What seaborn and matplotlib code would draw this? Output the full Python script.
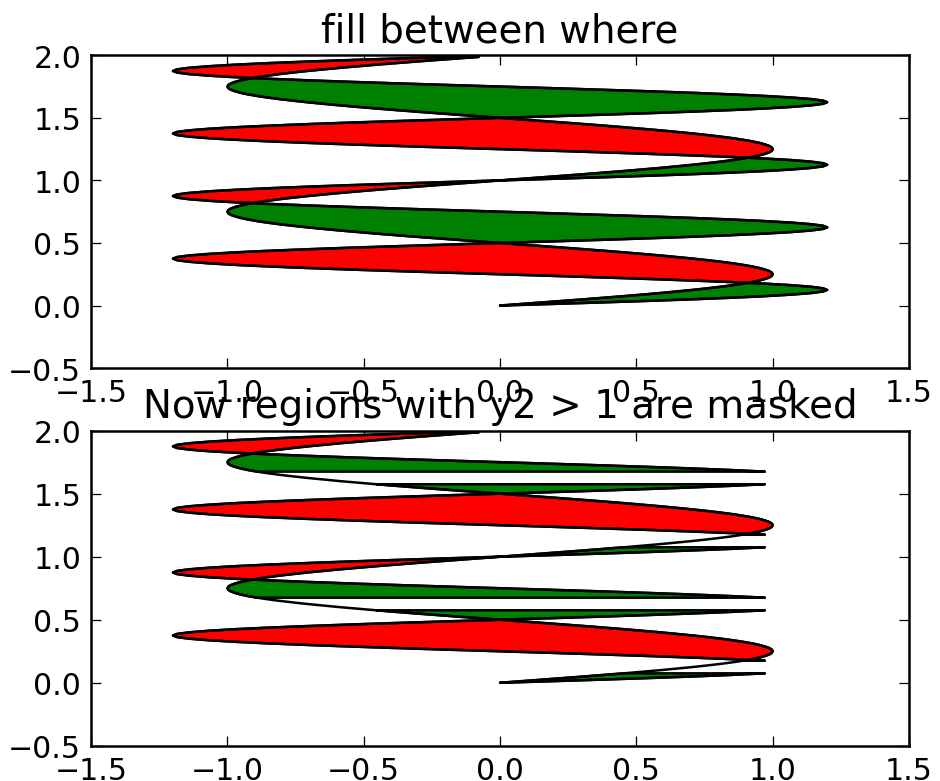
import numpy as np
import pandas as pd
import matplotlib
matplotlib.use('Agg')
import matplotlib.pyplot as plt
import seaborn as sns

# ------------------------------------------------------------
# data (y positions and the two curves)
# ------------------------------------------------------------
y = [
    0.0000, 0.0125, 0.0250, 0.0375, 0.0500, 0.0625, 0.0750, 0.0875,
    0.1000, 0.1125, 0.1250, 0.1375, 0.1500, 0.1625, 0.1750, 0.1875,
    0.2000, 0.2125, 0.2250, 0.2375, 0.2500, 0.2625, 0.2750, 0.2875,
    0.3000, 0.3125, 0.3250, 0.3375, 0.3500, 0.3625, 0.3750, 0.3875,
    0.4000, 0.4125, 0.4250, 0.4375, 0.4500, 0.4625, 0.4750, 0.4875,
    0.5000, 0.5125, 0.5250, 0.5375, 0.5500, 0.5625, 0.5750, 0.5875,
    0.6000, 0.6125, 0.6250, 0.6375, 0.6500, 0.6625, 0.6750, 0.6875,
    0.7000, 0.7125, 0.7250, 0.7375, 0.7500, 0.7625, 0.7750, 0.7875,
    0.8000, 0.8125, 0.8250, 0.8375, 0.8500, 0.8625, 0.8750, 0.8875,
    0.9000, 0.9125, 0.9250, 0.9375, 0.9500, 0.9625, 0.9750, 0.9875,
    1.0000, 1.0125, 1.0250, 1.0375, 1.0500, 1.0625, 1.0750, 1.0875,
    1.1000, 1.1125, 1.1250, 1.1375, 1.1500, 1.1625, 1.1750, 1.1875,
    1.2000, 1.2125, 1.2250, 1.2375, 1.2500, 1.2625, 1.2750, 1.2875,
    1.3000, 1.3125, 1.3250, 1.3375, 1.3500, 1.3625, 1.3750, 1.3875,
    1.4000, 1.4125, 1.4250, 1.4375, 1.4500, 1.4625, 1.4750, 1.4875,
    1.5000, 1.5125, 1.5250, 1.5375, 1.5500, 1.5625, 1.5750, 1.5875,
    1.6000, 1.6125, 1.6250, 1.6375, 1.6500, 1.6625, 1.6750, 1.6875,
    1.7000, 1.7125, 1.7250, 1.7375, 1.7500, 1.7625, 1.7750, 1.7875,
    1.8000, 1.8125, 1.8250, 1.8375, 1.8500, 1.8625, 1.8750, 1.8875,
    1.9000, 1.9125, 1.9250, 1.9375, 1.9500, 1.9625, 1.9750, 1.9875,
]

x1 = [
    0.000, 0.078, 0.156, 0.233, 0.309, 0.383, 0.454, 0.522, 0.588, 0.649,
    0.707, 0.760, 0.809, 0.853, 0.891, 0.924, 0.951, 0.972, 0.988, 0.997,
    1.000, 0.997, 0.988, 0.972, 0.951, 0.924, 0.891, 0.853, 0.809, 0.760,
    0.707, 0.649, 0.588, 0.522, 0.454, 0.383, 0.309, 0.233, 0.156, 0.078,
    0.000, -0.078, -0.156, -0.233, -0.309, -0.383, -0.454, -0.522, -0.588, -0.649,
    -0.707, -0.760, -0.809, -0.853, -0.891, -0.924, -0.951, -0.972, -0.988, -0.997,
    -1.000, -0.997, -0.988, -0.972, -0.951, -0.924, -0.891, -0.853, -0.809, -0.760,
    -0.707, -0.649, -0.588, -0.522, -0.454, -0.383, -0.309, -0.233, -0.156, -0.078,
    0.000, 0.078, 0.156, 0.233, 0.309, 0.383, 0.454, 0.522, 0.588, 0.649,
    0.707, 0.760, 0.809, 0.853, 0.891, 0.924, 0.951, 0.972, 0.988, 0.997,
    1.000, 0.997, 0.988, 0.972, 0.951, 0.924, 0.891, 0.853, 0.809, 0.760,
    0.707, 0.649, 0.588, 0.522, 0.454, 0.383, 0.309, 0.233, 0.156, 0.078,
    0.000, -0.078, -0.156, -0.233, -0.309, -0.383, -0.454, -0.522, -0.588, -0.649,
    -0.707, -0.760, -0.809, -0.853, -0.891, -0.924, -0.951, -0.972, -0.988, -0.997,
    -1.000, -0.997, -0.988, -0.972, -0.951, -0.924, -0.891, -0.853, -0.809, -0.760,
    -0.707, -0.649, -0.588, -0.522, -0.454, -0.383, -0.309, -0.233, -0.156, -0.078,
]

x2 = [
    0.000, 0.188, 0.371, 0.545, 0.705, 0.849, 0.971, 1.069, 1.141, 1.185,
    1.200, 1.185, 1.141, 1.069, 0.971, 0.849, 0.705, 0.545, 0.371, 0.188,
    0.000, -0.188, -0.371, -0.545, -0.705, -0.849, -0.971, -1.069, -1.141, -1.185,
    -1.200, -1.185, -1.141, -1.069, -0.971, -0.849, -0.705, -0.545, -0.371, -0.188,
    0.000, 0.188, 0.371, 0.545, 0.705, 0.849, 0.971, 1.069, 1.141, 1.185,
    1.200, 1.185, 1.141, 1.069, 0.971, 0.849, 0.705, 0.545, 0.371, 0.188,
    0.000, -0.188, -0.371, -0.545, -0.705, -0.849, -0.971, -1.069, -1.141, -1.185,
    -1.200, -1.185, -1.141, -1.069, -0.971, -0.849, -0.705, -0.545, -0.371, -0.188,
    0.000, 0.188, 0.371, 0.545, 0.705, 0.849, 0.971, 1.069, 1.141, 1.185,
    1.200, 1.185, 1.141, 1.069, 0.971, 0.849, 0.705, 0.545, 0.371, 0.188,
    0.000, -0.188, -0.371, -0.545, -0.705, -0.849, -0.971, -1.069, -1.141, -1.185,
    -1.200, -1.185, -1.141, -1.069, -0.971, -0.849, -0.705, -0.545, -0.371, -0.188,
    0.000, 0.188, 0.371, 0.545, 0.705, 0.849, 0.971, 1.069, 1.141, 1.185,
    1.200, 1.185, 1.141, 1.069, 0.971, 0.849, 0.705, 0.545, 0.371, 0.188,
    0.000, -0.188, -0.371, -0.545, -0.705, -0.849, -0.971, -1.069, -1.141, -1.185,
    -1.200, -1.185, -1.141, -1.069, -0.971, -0.849, -0.705, -0.545, -0.371, -0.188,
]

mask_limit = 1.0
titles = ['fill between where', 'Now regions with y2 > 1 are masked']
x_ticks = [-1.5, -1.0, -0.5, 0.0, 0.5, 1.0, 1.5]
y_ticks = [-0.5, 0.0, 0.5, 1.0, 1.5, 2.0]

y = np.array(y)
x1 = np.array(x1)
x2 = np.array(x2)
x2m = np.ma.masked_greater(x2, mask_limit)

# ------------------------------------------------------------
# old-style matplotlib look
# ------------------------------------------------------------
sns.set_style('ticks', {'xtick.direction': 'in', 'ytick.direction': 'in'})
plt.rcParams.update({
    'font.family': ['DejaVu Sans'],
    'font.size': 12,
    'text.color': 'black',
    'axes.titlecolor': 'black',
    'axes.linewidth': 1.0,
    'axes.edgecolor': 'black',
    'xtick.top': True, 'ytick.right': True,
    'xtick.major.size': 4, 'ytick.major.size': 4,
    'xtick.major.width': 0.5, 'ytick.major.width': 0.5,
    'xtick.major.pad': 4, 'ytick.major.pad': 4,
    'xtick.labelsize': 12, 'ytick.labelsize': 12,
    'xtick.color': 'black', 'ytick.color': 'black',
})

DPI = 180
fig = plt.figure(figsize=(940 / DPI, 782 / DPI), dpi=DPI)
ax1 = fig.add_axes([0.097, 0.528, 0.870, 0.400])
ax2 = fig.add_axes([0.097, 0.045, 0.870, 0.403])


def curve_frame(xv):
    # split a (possibly masked) curve into unbroken pieces
    mask = np.ma.getmaskarray(xv)
    seg = np.cumsum(np.r_[0, np.diff(mask.astype(int)) != 0])
    df = pd.DataFrame({'x': np.ma.getdata(xv), 'y': y, 'seg': seg})
    return df[~mask]


def draw(ax, xb, title):
    sns.lineplot(data=curve_frame(np.ma.asarray(x1)), x='x', y='y', units='seg',
                 sort=False, estimator=None, color='black', lw=1, ax=ax)
    sns.lineplot(data=curve_frame(np.ma.asarray(xb)), x='x', y='y', units='seg',
                 sort=False, estimator=None, color='black', lw=1, ax=ax)
    ax.fill_betweenx(y, x1, xb, where=xb >= x1, facecolor='green',
                     edgecolor='black', linewidth=1, interpolate=True)
    ax.fill_betweenx(y, x1, xb, where=xb <= x1, facecolor='red',
                     edgecolor='black', linewidth=1, interpolate=True)
    ax.set_xlim(-1.5, 1.5)
    ax.set_ylim(-0.5, 2.0)
    ax.set_xticks(x_ticks)
    ax.set_yticks(y_ticks)
    ax.set_title(title, fontsize=15.5, pad=5.5)
    ax.set_xlabel('')
    ax.set_ylabel('')


draw(ax1, x2, titles[0])
draw(ax2, x2m, titles[1])

fig.savefig('out.png', dpi=DPI)
